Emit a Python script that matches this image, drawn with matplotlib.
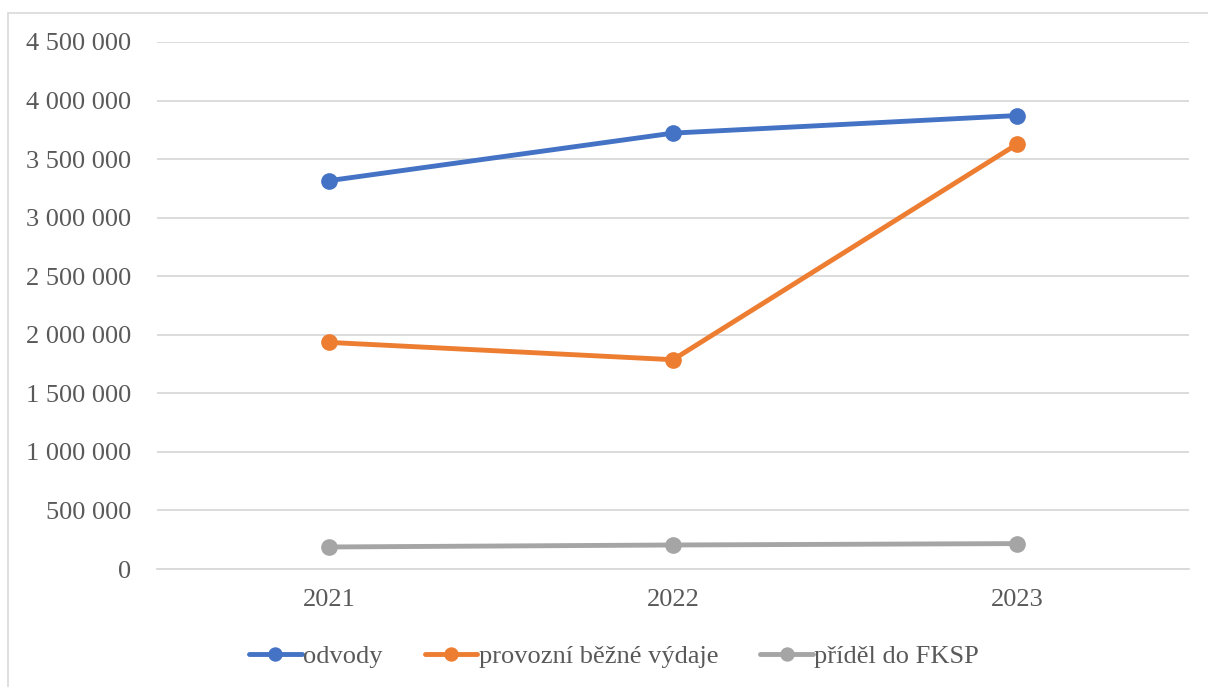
import matplotlib
matplotlib.use("Agg")
import matplotlib.pyplot as plt
from matplotlib.patches import Rectangle
from matplotlib.ticker import FuncFormatter

years = ["2021", "2022", "2023"]
odvody = [3316000, 3722000, 3872000]
provozni = [1935000, 1787000, 3627000]
pridel = [188000, 205000, 217000]
series_names = ["odvody", "provozní běžné výdaje", "příděl do FKSP"]
colors = ["#4472C4", "#ED7D31", "#A5A5A5"]

plt.rcParams['font.family'] = ['Liberation Serif', 'DejaVu Serif']

fig = plt.figure(figsize=(12.08, 6.87), dpi=100)
ax = fig.add_axes([157/1208, 1 - 569/687, (1189-157)/1208, (569-42)/687])

x = list(range(len(years)))
for vals, name, c in zip([odvody, provozni, pridel], series_names, colors):
    ax.plot(x, vals, color=c, lw=3.5, marker='o', ms=11, label=name,
            solid_capstyle='round', zorder=3)

ax.set_xlim(-0.5, 2.5)
ax.set_ylim(0, 4500000)
ax.set_yticks(range(0, 4500001, 500000))
ax.yaxis.set_major_formatter(FuncFormatter(lambda v, p: f"{int(v):,}".replace(",", " ")))
ax.set_xticks(x)
ax.set_xticklabels(years)
ax.grid(axis='y', color='#D9D9D9', lw=1.3)
ax.set_axisbelow(True)
for s in ['top', 'right', 'left']:
    ax.spines[s].set_visible(False)
ax.spines['bottom'].set_color('#D9D9D9')
ax.spines['bottom'].set_linewidth(1.3)
ax.tick_params(axis='both', length=0, labelsize=19, colors='#595959')
ax.tick_params(axis='y', pad=18.5)
ax.tick_params(axis='x', pad=14.5)

leg = fig.legend(loc='center', bbox_to_anchor=(0.5 + 10/1208, 1 - 656/687), ncol=3, frameon=False,
                 fontsize=19, handlelength=2.0, handletextpad=0.05, columnspacing=1.6,
                 markerscale=0.85)
for t in leg.get_texts():
    t.set_color('#595959')

fig.patches.append(Rectangle((8/1208, -10/687), 1220/1208, (674+10)/687, transform=fig.transFigure,
                             fill=False, edgecolor='#D9D9D9', lw=1.2))

fig.savefig("out.png", dpi=100)
